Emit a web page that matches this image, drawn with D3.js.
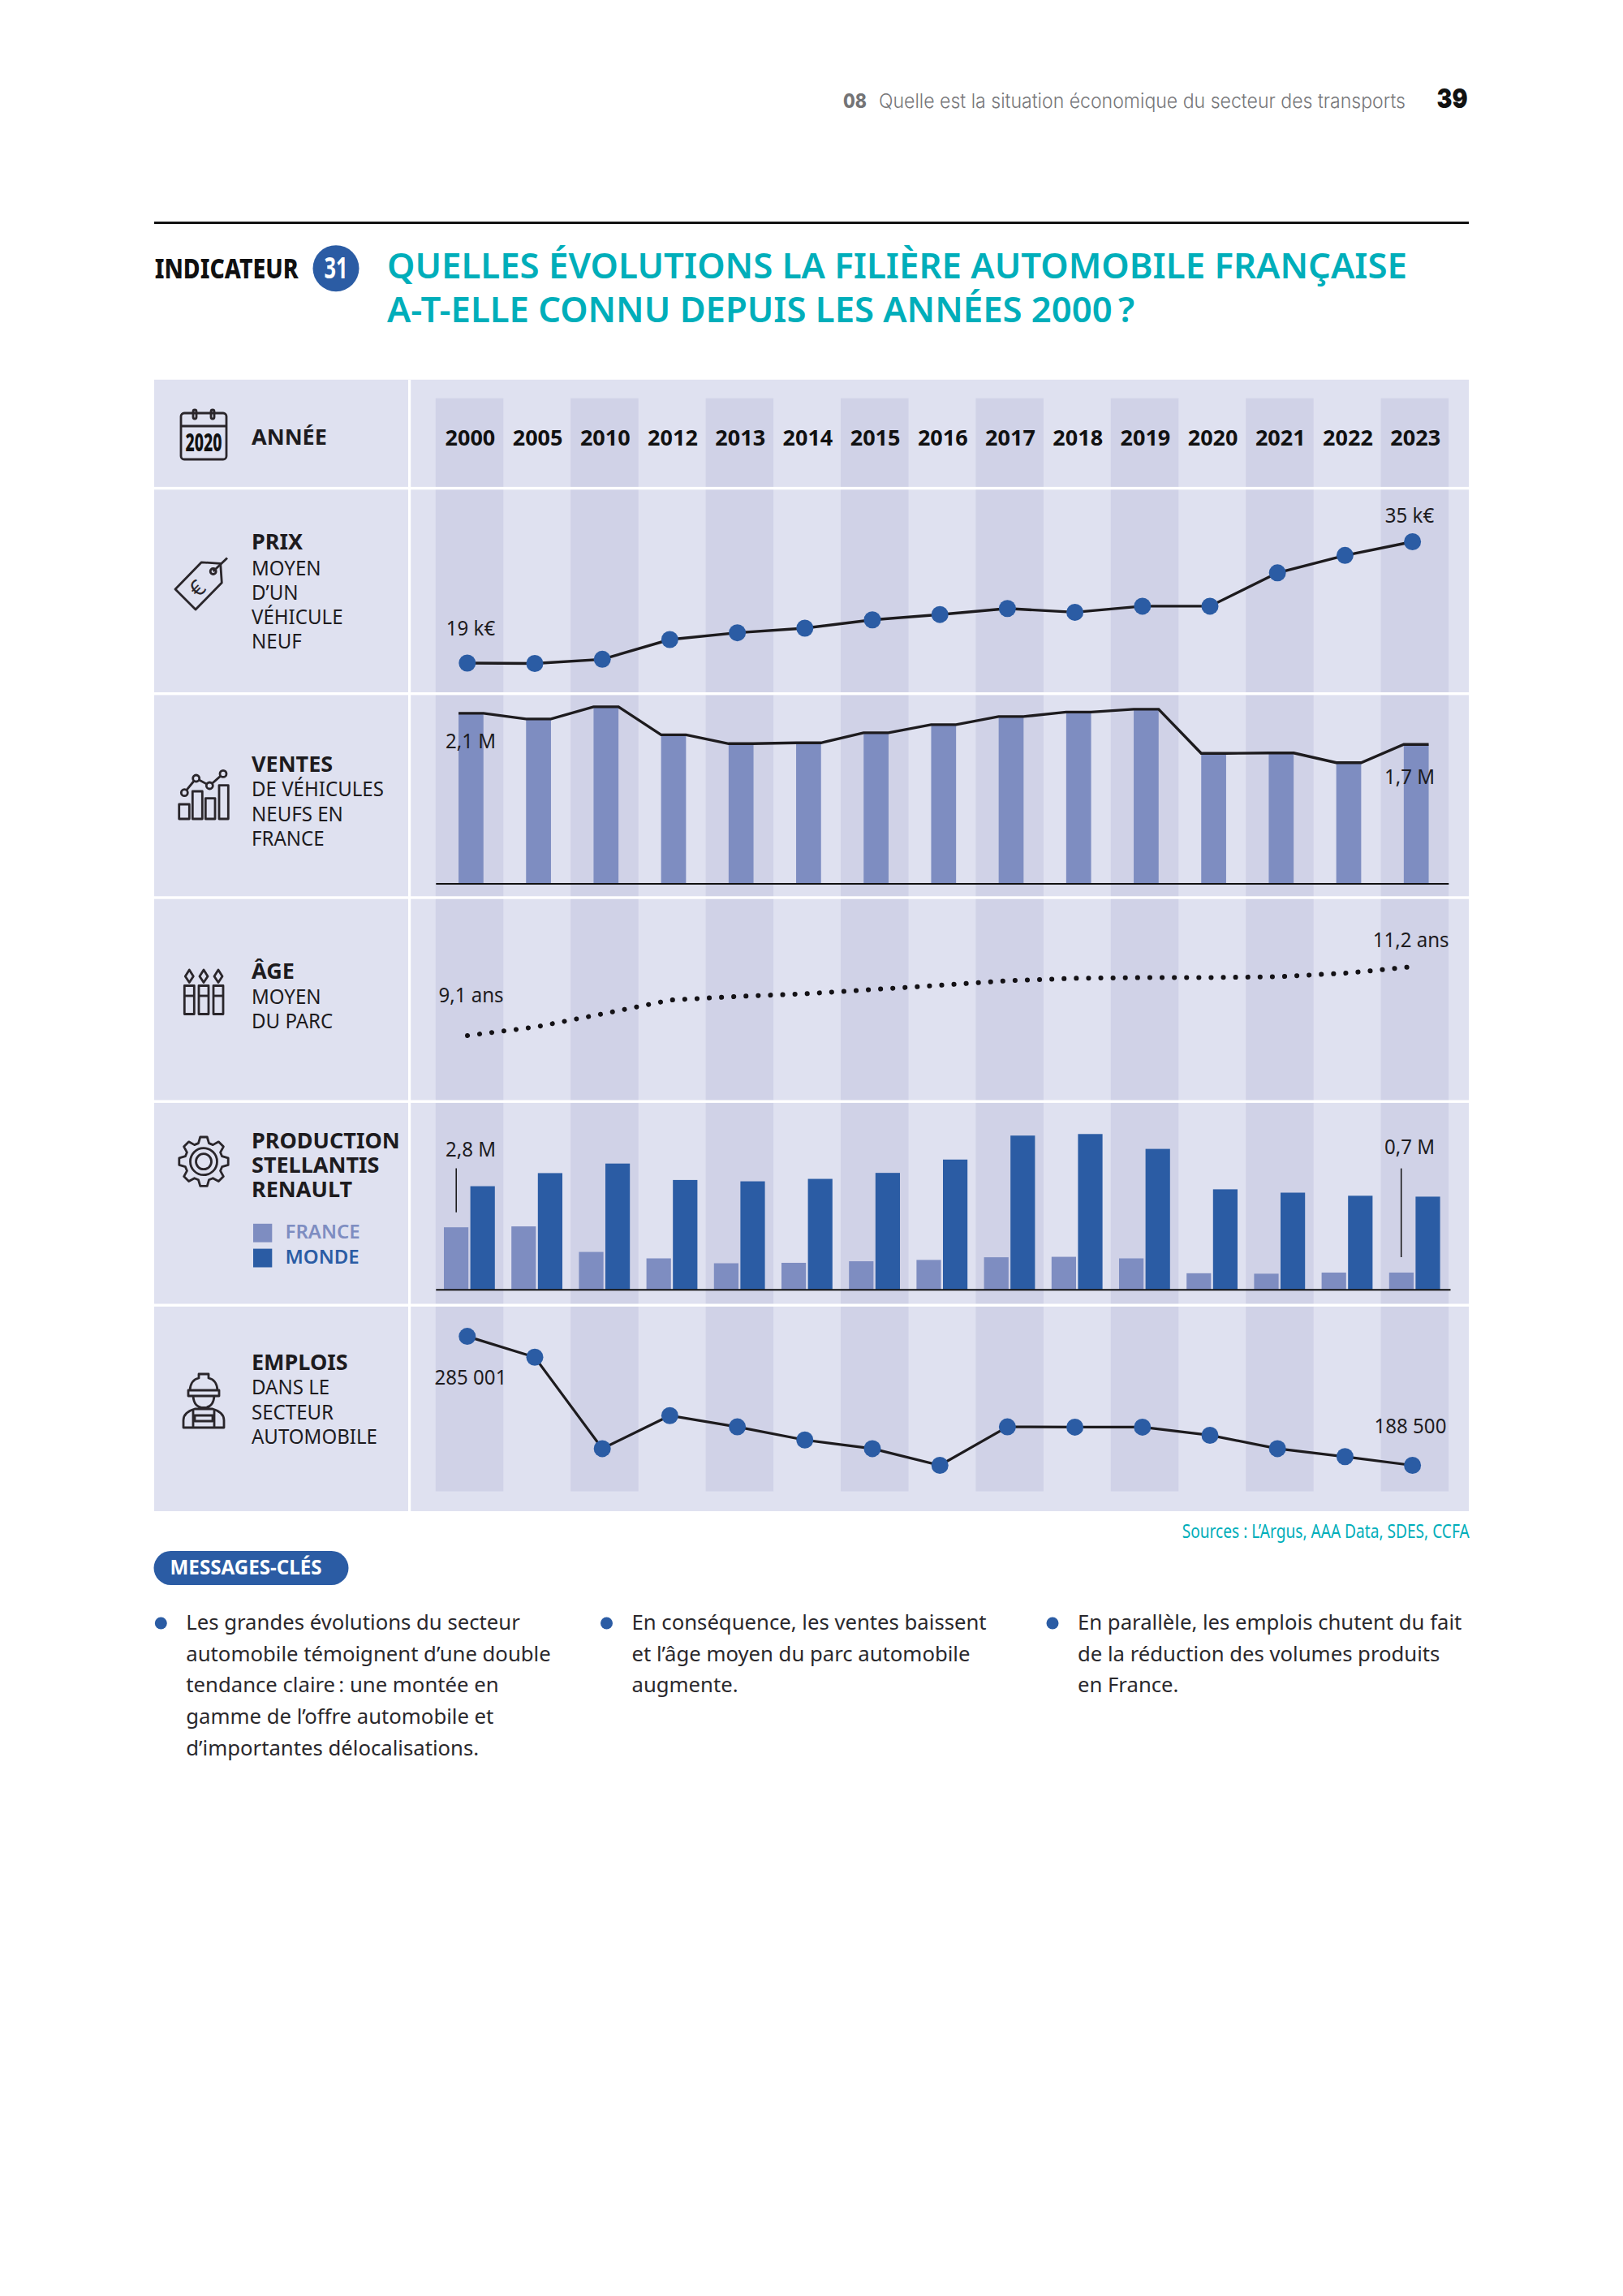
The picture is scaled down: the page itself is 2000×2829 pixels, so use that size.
<!DOCTYPE html>
<html lang="fr">
<head>
<meta charset="utf-8">
<script src="https://cdn.jsdelivr.net/npm/d3@7"></script>
<style>
html,body{margin:0;padding:0;background:#fff}
svg{display:block}
text{font-family:"Noto Sans",sans-serif;fill:#1d1b1e}
</style>
</head>
<body>
<svg id="c" width="2000" height="2829" viewBox="0 0 2000 2829"></svg>
<script>
const years = ["2000","2005","2010","2012","2013","2014","2015","2016","2017","2018","2019","2020","2021","2022","2023"];
const prix = [19,18.95,19.5,22.1,23,23.6,24.7,25.4,26.2,25.7,26.5,26.5,30.9,33.2,35];
const ventes = [2.10,2.03,2.18,1.835,1.725,1.735,1.86,1.96,2.06,2.115,2.15,1.605,1.61,1.49,1.715];
const age = [9.1,9.36,9.76,10.18,10.29,10.37,10.50,10.63,10.77,10.84,10.86,10.86,10.89,11.0,11.2];
const prodFrance = [2.8,2.84,1.69,1.40,1.18,1.2,1.27,1.33,1.45,1.47,1.40,0.73,0.71,0.76,0.76];
const prodMonde = [4.65,5.24,5.67,4.93,4.87,4.98,5.25,5.85,6.93,7.0,6.33,4.51,4.36,4.22,4.18];
const emplois = [285001,269400,201000,225700,217300,207500,201000,188500,217300,217100,217100,211000,201000,195000,188500];

const BLUE="#2b5ca4", LIGHT="#7e8dc1", PANEL="#dfe1f0", STRIPE="#d0d2e7", TEAL="#00aeba", INK="#1d1b1e";
const svg=d3.select("#c");
const x=d3.scaleBand().domain(years).range([536.8,1784.8]);
const cx=y=>x(y)+x.bandwidth()/2;
const ptX=y=>cx(y)-2.6;
const xAge=d3.scalePoint().domain(years).range([576,1744.7]);

function txt(g,s,px,py,size,o={}){
  const t=g.append("text").attr("x",px).attr("y",py).attr("font-size",size).text(s);
  if(o.w)t.attr("font-weight",o.w);
  if(o.fill)t.style("fill",o.fill);
  if(o.anchor)t.attr("text-anchor",o.anchor);
  if(o.font)t.style("font-family",o.font);
  if(o.len)t.attr("textLength",o.len).attr("lengthAdjust","spacingAndGlyphs");
  if(o.sx)t.attr("textLength",t.node().getComputedTextLength()*o.sx).attr("lengthAdjust","spacingAndGlyphs");
  return t;
}

/* header */
txt(svg,"08",1039,132.7,24,{w:800,fill:"#747476",font:"Inter",len:29});
txt(svg,"Quelle est la situation économique du secteur des transports",1083,132.7,24,{w:300,fill:"#77777a",font:"Inter",len:649});
txt(svg,"39",1770.5,132.7,33,{w:900,fill:"#111",font:"Inter",len:38});
svg.append("rect").attr("x",190).attr("y",273).attr("width",1620).attr("height",3).attr("fill","#111");
txt(svg,"INDICATEUR",190.7,342.7,33,{w:800,fill:"#111",len:177});
svg.append("circle").attr("cx",414).attr("cy",330.7).attr("r",28.5).attr("fill",BLUE);
txt(svg,"31",414,343.3,35,{w:700,fill:"#fff",anchor:"middle",len:29});
txt(svg,"QUELLES ÉVOLUTIONS LA FILIÈRE AUTOMOBILE FRANÇAISE",477,342.7,43.4,{w:600,fill:TEAL,len:1257});
txt(svg,"A-T-ELLE CONNU DEPUIS LES ANNÉES 2000\u202f?",477,396.7,43.4,{w:600,fill:TEAL,len:921});

/* panel */
const rowEdges=[467.8,601.4,854.5,1105.8,1357,1608,1862];
svg.append("rect").attr("x",190).attr("y",rowEdges[0]).attr("width",1620).attr("height",rowEdges[6]-rowEdges[0]).attr("fill",PANEL);
svg.append("g").selectAll("rect").data(years.filter((d,i)=>i%2==0)).join("rect")
 .attr("x",d=>x(d)).attr("y",490.7).attr("width",x.bandwidth()+.3).attr("height",1837.5-490.7).attr("fill",STRIPE);
svg.append("g").selectAll("rect").data(rowEdges.slice(1,6)).join("rect")
 .attr("x",190).attr("y",d=>d-1.5).attr("width",1620).attr("height",3.4).attr("fill","#fff");
svg.append("rect").attr("x",503).attr("y",rowEdges[0]).attr("width",3.2).attr("height",rowEdges[6]-rowEdges[0]).attr("fill","#fff");

/* years axis */
const yearAxis=svg.append("g").attr("transform","translate(1,549)").call(d3.axisTop(x).tickSize(0).tickPadding(0));
yearAxis.select(".domain").remove();
yearAxis.selectAll("text").attr("font-size",27).attr("font-weight",700).attr("font-family",'"Noto Sans"').attr("dy",0).style("fill","#111");

/* left labels */
function label(lines){lines.forEach(([s,b,y])=>txt(svg,s,310,y,b?27:26,b?{w:700}:{w:400,sx:.925}));}
label([["ANNÉE",1,548]]);
label([["PRIX",1,677],["MOYEN",0,708.6],["D’UN",0,739],["VÉHICULE",0,769],["NEUF",0,799]]);
label([["VENTES",1,950.5],["DE VÉHICULES",0,981],["NEUFS EN",0,1012],["FRANCE",0,1041.6]]);
label([["ÂGE",1,1205.8],["MOYEN",0,1236.6],["DU PARC",0,1266.5]]);
label([["PRODUCTION",1,1414.7],["STELLANTIS",1,1444.6],["RENAULT",1,1475]]);
label([["EMPLOIS",1,1687.7],["DANS LE",0,1717.8],["SECTEUR",0,1749],["AUTOMOBILE",0,1779]]);
svg.append("rect").attr("x",312).attr("y",1507.8).attr("width",23.3).attr("height",22.8).attr("fill",LIGHT);
svg.append("rect").attr("x",312).attr("y",1538.6).attr("width",23.3).attr("height",22.9).attr("fill",BLUE);
txt(svg,"FRANCE",351.5,1525.7,24,{w:600,fill:LIGHT});
txt(svg,"MONDE",351.5,1556.5,24,{w:600,fill:BLUE});

/* prix */
const yPrix=d3.scaleLinear().domain([19,35]).range([817,667.5]);
const lineP=d3.line().x((d,i)=>ptX(years[i])).y(d=>yPrix(d));
svg.append("path").attr("d",lineP(prix)).attr("fill","none").attr("stroke",INK).attr("stroke-width",3.4);
svg.append("g").selectAll("circle").data(prix).join("circle").attr("cx",(d,i)=>ptX(years[i])).attr("cy",d=>yPrix(d)).attr("r",10.5).attr("fill",BLUE);

/* ventes */
const yV=d3.scaleLinear().domain([0,2.1]).range([1088.4,878.9]);
const bw=30.7, vOff=2;
svg.append("g").selectAll("rect").data(ventes).join("rect")
 .attr("x",(d,i)=>cx(years[i])+vOff-bw/2).attr("y",d=>yV(d)).attr("width",bw).attr("height",d=>yV(0)-yV(d)).attr("fill",LIGHT);
const stepPts=ventes.flatMap((d,i)=>[[cx(years[i])+vOff-bw/2,yV(d)],[cx(years[i])+vOff+bw/2,yV(d)]]);
svg.append("path").attr("d",d3.line()(stepPts)).attr("fill","none").attr("stroke",INK).attr("stroke-width",3.4);
const ax1=svg.append("g").attr("transform",`translate(0,${yV(0)})`).call(d3.axisBottom(x).tickSize(0).tickFormat(""));
ax1.select(".domain").attr("stroke","#111").attr("stroke-width",2);

/* age */
const yA=d3.scaleLinear().domain([9.1,11.2]).range([1276,1190.7]);
svg.append("path").attr("d",d3.line().x((d,i)=>xAge(years[i])).y(d=>yA(d))(age))
 .attr("fill","none").attr("stroke","#141216").attr("stroke-width",6).attr("stroke-linecap","round").attr("stroke-dasharray","0.1 15");

/* production */
const yProd=d3.scaleLinear().domain([0,1]).range([1588.8,1561.44]);
const pbw=30.2;
svg.append("g").selectAll("rect").data(prodFrance).join("rect")
 .attr("x",(d,i)=>cx(years[i])-pbw-1.2).attr("y",d=>yProd(d)).attr("width",pbw).attr("height",d=>yProd(0)-yProd(d)).attr("fill",LIGHT);
svg.append("g").selectAll("rect").data(prodMonde).join("rect")
 .attr("x",(d,i)=>cx(years[i])+1.2).attr("y",d=>yProd(d)).attr("width",pbw).attr("height",d=>yProd(0)-yProd(d)).attr("fill",BLUE);
const ax2=svg.append("g").attr("transform",`translate(0,${yProd(0)})`).call(d3.axisBottom(x.copy().range([536.8,1787])).tickSize(0).tickFormat(""));
ax2.select(".domain").attr("stroke","#111").attr("stroke-width",2);
svg.append("line").attr("x1",562.2).attr("x2",562.2).attr("y1",1439.6).attr("y2",1493.8).attr("stroke","#111").attr("stroke-width",1.5);
svg.append("line").attr("x1",1726.7).attr("x2",1726.7).attr("y1",1439.6).attr("y2",1549).attr("stroke","#111").attr("stroke-width",1.5);

/* emplois */
const yE=d3.scaleLinear().domain([188500,285001]).range([1805.5,1646.6]);
svg.append("path").attr("d",d3.line().x((d,i)=>ptX(years[i])).y(d=>yE(d))(emplois)).attr("fill","none").attr("stroke",INK).attr("stroke-width",3.2);
svg.append("g").selectAll("circle").data(emplois).join("circle").attr("cx",(d,i)=>ptX(years[i])).attr("cy",d=>yE(d)).attr("r",10.5).attr("fill",BLUE);

/* value labels */
[["19 k€",580,783],["35 k€",1737,644],["2,1 M",580,921.7],["1,7 M",1737,965.5],["9,1 ans",580.5,1235],["11,2 ans",1738.7,1166.7],
 ["2,8 M",580,1425],["0,7 M",1737,1422],["285 001",580,1706],["188 500",1738,1766]]
 .forEach(([s,a,b])=>txt(svg,s,a,b,26,{anchor:"middle",sx:.925}));

/* sources */
txt(svg,"Sources : L’Argus, AAA Data, SDES, CCFA",1810.7,1895,23.5,{w:400,fill:TEAL,anchor:"end",len:354});

/* messages */
svg.append("rect").attr("x",189.5).attr("y",1911).attr("width",240).attr("height",42).attr("rx",21).attr("fill",BLUE);
txt(svg,"MESSAGES-CLÉS",209.6,1940,25,{w:700,fill:"#fff",len:187});
const messages=[
 [229.3,["Les grandes évolutions du secteur","automobile témoignent d’une double","tendance claire\u202f: une montée en","gamme de l’offre automobile et","d’importantes délocalisations."]],
 [778.5,["En conséquence, les ventes baissent","et l’âge moyen du parc automobile","augmente."]],
 [1328,["En parallèle, les emplois chutent du fait","de la réduction des volumes produits","en France."]]];
messages.forEach(([mx,lines])=>{
  svg.append("circle").attr("cx",mx-31).attr("cy",2000).attr("r",7.5).attr("fill",BLUE);
  lines.forEach((s,i)=>txt(svg,s,mx,2007.7+i*38.8,25.7,{w:400,fill:"#2a282c"}));
});

/* icons */
const ic=svg.append("g").attr("fill","none").attr("stroke","#2a262b").attr("stroke-width",2.8).attr("stroke-linejoin","round");
ic.append("rect").attr("x",223).attr("y",509).attr("width",56).attr("height",57).attr("rx",4);
ic.append("path").attr("d","M223 525H279");
ic.append("rect").attr("x",238).attr("y",505).attr("width",4).attr("height",11).attr("rx",2);
ic.append("rect").attr("x",260).attr("y",505).attr("width",4).attr("height",11).attr("rx",2);
txt(svg,"2020",251,556,30,{w:800,anchor:"middle",len:45,fill:"#111"});
ic.append("path").attr("d","M216 726L248.3 692.8L271.7 694.3L273.3 718L241 751Z");
ic.append("circle").attr("cx",262.7).attr("cy",704).attr("r",3.5);
ic.append("path").attr("d","M262.7 704L280 687.4");
svg.append("text").attr("transform","translate(243,725) rotate(-45)").attr("text-anchor","middle").attr("dy","0.35em").attr("font-size",27).text("€").style("fill","#2a262b");
[[220.7,991,12.6,18],[237.3,975,12,34],[253.3,983.6,11.7,25.4],[270,967.6,11.3,41.4]].forEach(r=>ic.append("rect").attr("x",r[0]).attr("y",r[1]).attr("width",r[2]).attr("height",r[3]));
const chartDots=[[227.3,976.7],[241.7,959],[258.3,968],[275,953.4]];
ic.append("path").attr("d",d3.line()(chartDots));
chartDots.forEach(p=>ic.append("circle").attr("cx",p[0]).attr("cy",p[1]).attr("r",4).attr("fill",PANEL));
[233.3,251,269].forEach(a=>{
  ic.append("rect").attr("x",a-6).attr("y",1214.5).attr("width",12).attr("height",35);
  ic.append("path").attr("d",`M${a-6} 1227H${a+6}`);
  ic.append("path").attr("d",`M${a} 1195L${a+5} 1203L${a} 1210.6L${a-5} 1203Z`);
});
const gearPts=[];for(let i=0;i<8;i++){const t=i*Math.PI/4-Math.PI/2,s=.2,R=30.5,r=23.5;
  [[t-s*1.4,r],[t-s*.7,R],[t+s*.7,R],[t+s*1.4,r]].forEach(([a,q])=>gearPts.push([251+q*Math.cos(a),1431.2+q*Math.sin(a)]));}
ic.append("path").attr("d",d3.line()(gearPts)+"Z");
ic.append("circle").attr("cx",251).attr("cy",1431.2).attr("r",16.5);
ic.append("circle").attr("cx",251).attr("cy",1431.2).attr("r",9.5);
ic.append("path").attr("d","M234 1713Q235 1700 245 1698V1693H257V1698Q267 1700 268 1713M232 1713H270V1720H232ZM238 1720Q239 1734.5 251 1734.5Q263 1734.5 264 1720M226 1759V1750Q226 1740 240 1736L262 1736Q276 1740 276 1750V1759ZM238 1759V1736M264 1759V1736M240 1744H262V1751H240Z");
</script>
</body>
</html>
